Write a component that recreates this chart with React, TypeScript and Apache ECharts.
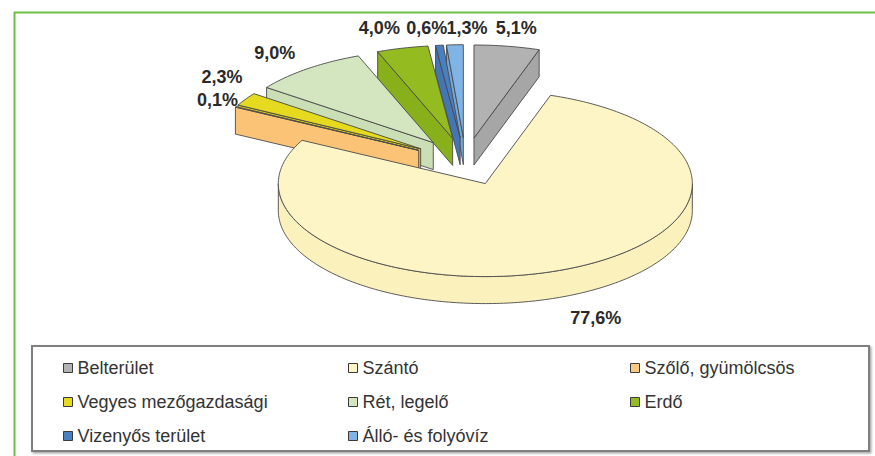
import React, { useEffect, useRef } from 'react';
import * as echarts from 'echarts';

// ---- data ----
const CATEGORIES = [
  'Belterület',
  'Szántó',
  'Szőlő, gyümölcsös',
  'Vegyes mezőgazdasági',
  'Rét, legelő',
  'Erdő',
  'Vizenyős terület',
  'Álló- és folyóvíz',
];
const SHARES = [5.1, 77.6, 0.1, 2.3, 9.0, 4.0, 0.6, 1.3];

// ---- styles ----
const TOP_COLORS = ['#b2b2b2', '#fdf5c6', '#fdc980', '#e6da1e', '#d4e6c0', '#94bc20', '#4a7fc0', '#80b3e6'];
const WALL_COLORS = ['#a6a6a6', '#fbf1bc', '#fbc376', '#d9cc16', '#cbdfb6', '#88b01a', '#4276b5', '#74a8dc'];
const EDGE = '#4a4a4a';
const FONT = '"Liberation Sans", Arial, Helvetica, sans-serif';

// ---- layout ----
const CX = 465.5;
const CY = 161.5;
const RX = 207;
const RY = 93;
const DEPTH = 27;
const EXPLODE = 53;
const LABEL_K = 1.22;
const LABEL_NUDGE: [number, number][] = [
  [2, 2], [16, 2], [22, 3], [15, -11], [-5, 0], [-12, 0], [-8, 3], [14, 4],
];
const LEGEND_COLS = [58, 343, 625];
const LEGEND_TOP = 353;

function fmt(v: number) {
  return v.toFixed(1).replace('.', ',') + '%';
}

function buildSlice(i: number, a0: number, a1: number) {
  const mid = (a0 + a1) / 2;
  const ax = CX + EXPLODE * Math.sin(mid);
  const ay = CY - EXPLODE * (RY / RX) * Math.cos(mid);
  const pt = (a: number, dz = 0): number[] => [ax + RX * Math.sin(a), ay - RY * Math.cos(a) + dz];
  const arc = (s: number, e: number, dz: number) => {
    const n = Math.max(2, Math.ceil((e - s) / (Math.PI / 180)) + 1);
    const pts: number[][] = [];
    for (let k = 0; k < n; k++) pts.push(pt(s + ((e - s) * k) / (n - 1), dz));
    return pts;
  };
  const poly = (points: number[][], fill: string) => ({
    type: 'polygon',
    shape: { points },
    style: { fill, stroke: EDGE, lineWidth: 0.9, lineJoin: 'round' },
  });
  const children: any[] = [];
  const w0 = Math.max(a0, Math.PI / 2);
  const w1 = Math.min(a1, (3 * Math.PI) / 2);
  if (w1 > w0) {
    const top = arc(w0, w1, 0);
    const bot = arc(w0, w1, DEPTH).reverse();
    children.push(poly(top.concat(bot), WALL_COLORS[i]));
  }
  const apex = [ax, ay];
  const apexB = [ax, ay + DEPTH];
  if (a0 > Math.PI && a0 < 2 * Math.PI) {
    children.push(poly([apex, pt(a0), pt(a0, DEPTH), apexB], WALL_COLORS[i]));
  }
  if (a1 > 0 && a1 < Math.PI) {
    children.push(poly([apex, pt(a1), pt(a1, DEPTH), apexB], WALL_COLORS[i]));
  }
  children.push(poly([apex].concat(arc(a0, a1, 0)), TOP_COLORS[i]));
  const lx = ax + LABEL_K * RX * Math.sin(mid) + LABEL_NUDGE[i][0];
  const ly = ay - LABEL_K * RY * Math.cos(mid) + (Math.cos(mid) < 0 ? DEPTH : 0) + LABEL_NUDGE[i][1];
  children.push({
    type: 'text',
    style: {
      text: fmt(SHARES[i]),
      x: lx,
      y: ly,
      align: 'center',
      verticalAlign: 'middle',
      fontFamily: FONT,
      fontWeight: 'bold',
      fontSize: 18,
      fill: '#2a2a2a',
    },
  });
  return { type: 'group', children };
}

export default function App() {
  const ref = useRef<HTMLDivElement>(null);
  useEffect(() => {
    const chart = echarts.init(ref.current!, null, { renderer: 'svg' });
    const total = SHARES.reduce((a, b) => a + b, 0);
    const bounds: [number, number][] = [];
    let acc = 0;
    SHARES.forEach((v) => {
      const s = (acc / total) * Math.PI * 2;
      acc += v;
      bounds.push([s, (acc / total) * Math.PI * 2]);
    });
    const front = bounds.map(([s, e]) => -Math.cos((s + e) / 2));
    const order = front.map((_, i) => i).sort((a, b) => front[a] - front[b]);
    const rank: number[] = [];
    order.forEach((idx, r) => (rank[idx] = r));

    const series = CATEGORIES.map((name, i) => ({
      type: 'custom',
      name,
      coordinateSystem: 'none',
      z: 10 + rank[i],
      silent: true,
      itemStyle: { color: TOP_COLORS[i] },
      data: [SHARES[i]],
      renderItem: () => buildSlice(i, bounds[i][0], bounds[i][1]),
    }));

    chart.setOption({
      animation: false,
      backgroundColor: '#ffffff',
      legend: [0, 1, 2].map((col) => ({
        orient: 'vertical',
        left: LEGEND_COLS[col],
        top: LEGEND_TOP,
        itemGap: 14,
        itemWidth: 9,
        itemHeight: 9,
        icon: 'rect',
        selectedMode: false,
        data: CATEGORIES.filter((_, i) => i % 3 === col),
        itemStyle: { borderColor: '#3a3a3a', borderWidth: 1 },
        textStyle: { fontFamily: FONT, fontSize: 18, color: '#333333', lineHeight: 20 },
      })),
      graphic: [
        {
          type: 'rect',
          z: 1,
          shape: { x: 32, y: 346, width: 837, height: 105 },
          style: {
            fill: '#ffffff',
            stroke: '#7f7f7f',
            lineWidth: 2,
            shadowBlur: 2,
            shadowOffsetX: 1.5,
            shadowOffsetY: 1.5,
            shadowColor: 'rgba(0,0,0,0.35)',
          },
        },
        {
          type: 'line',
          z: 1,
          shape: { x1: 14, y1: 12.5, x2: 875, y2: 12.5 },
          style: { stroke: '#6cbf45', lineWidth: 2 },
        },
        {
          type: 'line',
          z: 1,
          shape: { x1: 14.5, y1: 12, x2: 14.5, y2: 456 },
          style: { stroke: '#6cbf45', lineWidth: 2 },
        },
      ],
      series,
    } as any);
    return () => chart.dispose();
  }, []);
  return <div ref={ref} style={{ position: 'absolute', left: 0, top: 0, width: 875, height: 456 }} />;
}
